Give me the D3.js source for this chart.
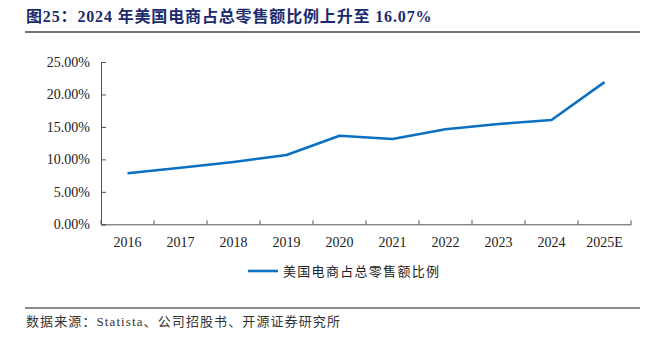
<!DOCTYPE html>
<html>
<head>
<meta charset="utf-8">
<script src="https://cdn.jsdelivr.net/npm/d3@7"></script>
<style>
  body { margin: 0; background: #fff; }
  svg { display: block; }
</style>
</head>
<body>
<div id="chart"></div>
<script>
// data
const years = ['2016', '2017', '2018', '2019', '2020', '2021', '2022', '2023', '2024', '2025E'];
const shares = [7.86, 8.7, 9.6, 10.67, 13.65, 13.14, 14.63, 15.45, 16.07, 21.9];
const yTicks = [0, 5, 10, 15, 20, 25];
const seriesName = '美国电商占总零售额比例';
const titleText = '图25：2024 年美国电商占总零售额比例上升至 16.07%';
const sourceText = '数据来源：Statista、公司招股书、开源证券研究所';

const width = 664, height = 339;
const margin = { top: 62, right: 33, bottom: 115, left: 101 };
const lineColor = '#0a70c2';
const serif = '"Liberation Serif", "Times New Roman", "Noto Sans CJK SC", serif';
const cjk = '"Liberation Serif", "Noto Sans CJK SC", serif';

const svg = d3.select('#chart').append('svg')
  .attr('width', width)
  .attr('height', height);

// title + rules
svg.append('text')
  .attr('x', 26)
  .attr('y', 22)
  .text(titleText)
  .style('font-family', cjk)
  .style('font-weight', 'bold')
  .style('font-size', '16px')
  .style('letter-spacing', '0.85px')
  .style('fill', '#1c2a6e');

svg.append('line')
  .attr('x1', 25).attr('x2', 640)
  .attr('y1', 32).attr('y2', 32)
  .style('stroke', '#444')
  .style('stroke-width', 1.3);

svg.append('line')
  .attr('x1', 25).attr('x2', 640)
  .attr('y1', 308).attr('y2', 308)
  .style('stroke', '#666')
  .style('stroke-width', 1.3);

svg.append('text')
  .attr('x', 26)
  .attr('y', 326)
  .text(sourceText)
  .style('font-family', cjk)
  .style('font-size', '13px')
  .style('letter-spacing', '1.1px')
  .style('fill', '#333');

const x = d3.scaleBand()
  .domain(years)
  .range([margin.left, width - margin.right]);

const y = d3.scaleLinear()
  .domain([0, 25])
  .range([height - margin.bottom + 0.3, margin.top]);

const g = svg.append('g');

// y axis
const yAxis = g.append('g')
  .attr('transform', `translate(${margin.left},0)`)
  .call(d3.axisLeft(y)
    .tickValues(yTicks)
    .tickSize(-5)
    .tickPadding(11)
    .tickFormat(d => d3.format('.2f')(d) + '%'));

// x axis, ticks on band edges
const xAxis = g.append('g')
  .attr('transform', `translate(0,${y(0)})`)
  .call(d3.axisBottom(x).tickSize(0).tickPadding(13));

xAxis.selectAll('.edge')
  .data(d3.range(years.length + 1))
  .enter()
  .append('line')
  .attr('class', 'edge')
  .attr('x1', i => margin.left + i * x.step())
  .attr('x2', i => margin.left + i * x.step())
  .attr('y1', 0)
  .attr('y2', -4)
  .style('stroke', '#555');

[yAxis, xAxis].forEach(a => {
  a.select('.domain').style('stroke', '#555');
  a.selectAll('.tick line').style('stroke', '#555');
  a.selectAll('text')
    .style('font-family', serif)
    .style('font-size', '14px')
    .style('fill', '#222');
});

// line
const line = d3.line()
  .x((d, i) => x(years[i]) + x.bandwidth() / 2)
  .y(d => y(d));

g.append('path')
  .datum(shares)
  .attr('d', line)
  .style('fill', 'none')
  .style('stroke', lineColor)
  .style('stroke-width', 2.6)
  .style('stroke-linejoin', 'round');

// legend
const legend = svg.append('g')
  .attr('transform', 'translate(248,271)');

legend.append('line')
  .attr('x1', 0).attr('x2', 30)
  .attr('y1', 0).attr('y2', 0)
  .style('stroke', lineColor)
  .style('stroke-width', 2.6);

legend.append('text')
  .attr('x', 35)
  .attr('y', 5)
  .text(seriesName)
  .style('font-family', cjk)
  .style('font-size', '13px')
  .style('letter-spacing', '1.3px')
  .style('fill', '#222');
</script>
</body>
</html>
